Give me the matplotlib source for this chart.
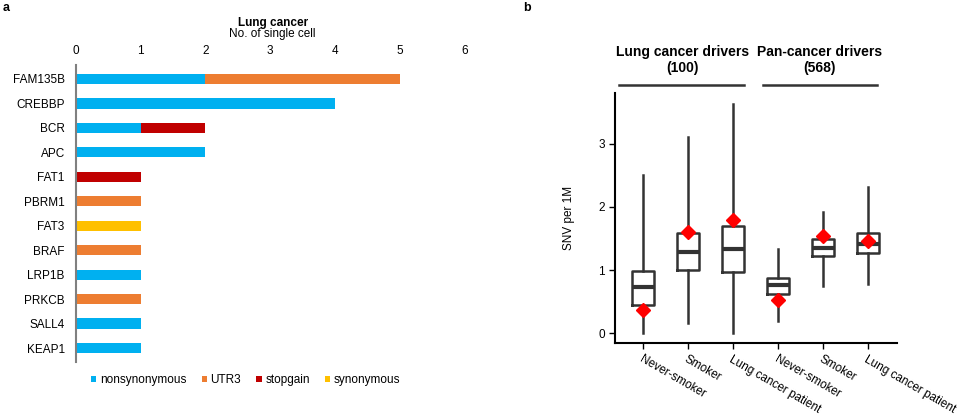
import numpy as np
import matplotlib.pyplot as plt
from matplotlib.patches import Patch
from matplotlib.lines import Line2D

plt.rcParams['font.family'] = ['Liberation Sans', 'DejaVu Sans']

# panel a data
genes = ['FAM135B', 'CREBBP', 'BCR', 'APC', 'FAT1', 'PBRM1', 'FAT3', 'BRAF',
         'LRP1B', 'PRKCB', 'SALL4', 'KEAP1']
nonsyn = [2, 4, 1, 2, 0, 0, 0, 0, 1, 0, 1, 1]
utr3 = [3, 0, 0, 0, 0, 1, 0, 1, 0, 1, 0, 0]
stopgain = [0, 0, 1, 0, 1, 0, 0, 0, 0, 0, 0, 0]
syn = [0, 0, 0, 0, 0, 0, 1, 0, 0, 0, 0, 0]
mut_types = ['nonsynonymous', 'UTR3', 'stopgain', 'synonymous']
mut_colors = ['#00B0F0', '#ED7D31', '#C00000', '#FFC000']

# panel b data
groups = ['Never-smoker', 'Smoker', 'Lung cancer patient',
          'Never-smoker', 'Smoker', 'Lung cancer patient']
whislo = [0.0, 0.16, 0.0, 0.19, 0.75, 0.78]
q1 = [0.45, 1.0, 0.97, 0.63, 1.22, 1.27]
med = [0.73, 1.28, 1.34, 0.76, 1.35, 1.42]
q3 = [0.98, 1.59, 1.70, 0.87, 1.49, 1.59]
whishi = [2.5, 3.1, 3.62, 1.34, 1.92, 2.31]
sample_val = [0.37, 1.6, 1.79, 0.53, 1.54, 1.46]
driver_sets = ['Lung cancer drivers\n(100)', 'Pan-cancer drivers\n(568)']

fig = plt.figure(figsize=(9.6, 4.19), dpi=100)

# ---- panel a ----
ax1 = fig.add_axes([0.079, 0.136, 0.405, 0.709])
y = np.arange(len(genes))
left = np.zeros(len(genes))
for vals, c in zip([nonsyn, utr3, stopgain, syn], mut_colors):
    ax1.barh(y, vals, left=left, height=0.42, color=c)
    left = left + np.array(vals)
ax1.set_xlim(0, 6)
ax1.set_ylim(11.57, -0.57)
ax1.set_yticks(y)
ax1.set_yticklabels(genes, fontsize=8.5)
ax1.xaxis.tick_top()
ax1.set_xticks(range(7))
ax1.tick_params(axis='both', length=0, labelsize=8.5)
ax1.tick_params(axis='x', pad=6)
ax1.tick_params(axis='y', pad=8)
for s in ['top', 'right', 'bottom']:
    ax1.spines[s].set_visible(False)
ax1.spines['left'].set_color('#808080')
ax1.spines['left'].set_linewidth(1.5)
fig.text(0.284, 0.945, 'Lung cancer', ha='center', va='center', fontsize=8.5, fontweight='bold')
fig.text(0.284, 0.919, 'No. of single cell', ha='center', va='center', fontsize=8.5)
handles = [Patch(facecolor=c, label=m) for m, c in zip(mut_types, mut_colors)]
fig.legend(handles=handles, loc='center', bbox_to_anchor=(0.256, 0.092), ncol=4,
           frameon=False, fontsize=8.5, handlelength=0.45, handleheight=0.45,
           handletextpad=0.3, columnspacing=1.3)

# ---- panel b ----
ax2 = fig.add_axes([0.641, 0.181, 0.293, 0.597])
stats = []
for i in range(len(groups)):
    stats.append(dict(whislo=whislo[i], q1=q1[i], med=med[i], q3=q3[i], whishi=whishi[i]))
pos = np.arange(1, len(groups) + 1)
ax2.bxp(stats, positions=pos, widths=0.5, showfliers=False, showcaps=False,
        boxprops=dict(color='#333333', linewidth=1.8),
        whiskerprops=dict(color='#333333', linewidth=1.8),
        medianprops=dict(color='#333333', linewidth=3))
ax2.plot(pos, sample_val, 'D', color='red', markersize=7.5, zorder=5)
ax2.set_xlim(0.38, 6.64)
ax2.set_ylim(-0.153, 3.8)
ax2.set_yticks([0, 1, 2, 3])
ax2.set_xticks(pos)
ax2.set_xticklabels(groups, rotation=-30, ha='left', rotation_mode='anchor', fontsize=8.5)
ax2.tick_params(axis='both', labelsize=8.5, width=1, length=4)
ax2.set_ylabel('SNV per 1M', fontsize=8.5, labelpad=17)
for s in ['top', 'right']:
    ax2.spines[s].set_visible(False)
for s in ['left', 'bottom']:
    ax2.spines[s].set_linewidth(1.5)

for cx, x0, x1, lab in [(1.87, 0.47, 3.24, driver_sets[0]), (4.93, 3.67, 6.2, driver_sets[1])]:
    ax2.add_line(Line2D([x0, x1], [3.92, 3.92], color='#333333', linewidth=1.8, clip_on=False))
    ax2.text(cx, 4.08, lab, ha='center', va='bottom', fontsize=10, fontweight='bold',
             linespacing=1.25)

fig.text(0.003, 0.98, 'a', fontsize=9, fontweight='bold', va='center')
fig.text(0.545, 0.98, 'b', fontsize=9, fontweight='bold', va='center')

fig.savefig('out.png', dpi=100)
